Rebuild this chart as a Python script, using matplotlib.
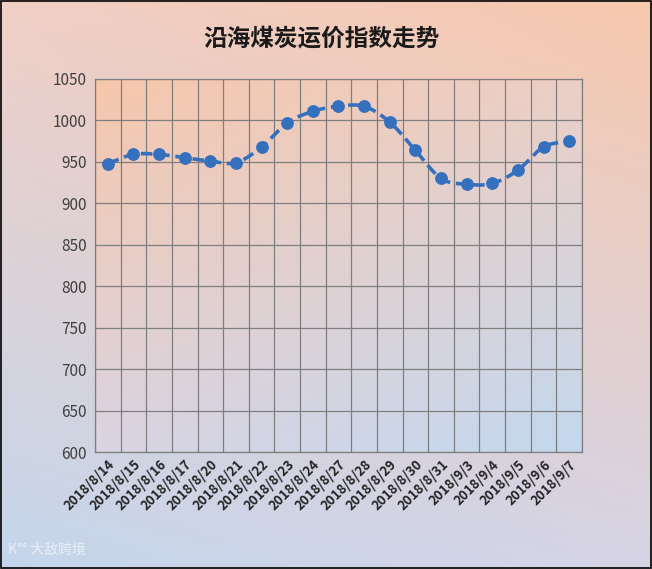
import numpy as np
import matplotlib
matplotlib.use("Agg")
import matplotlib.pyplot as plt
from matplotlib.colors import to_rgb

plt.rcParams['font.family'] = ['Noto Sans CJK SC', 'DejaVu Sans']

dates = ["2018/8/14", "2018/8/15", "2018/8/16", "2018/8/17", "2018/8/20", "2018/8/21",
         "2018/8/22", "2018/8/23", "2018/8/24", "2018/8/27", "2018/8/28", "2018/8/29",
         "2018/8/30", "2018/8/31", "2018/9/3", "2018/9/4", "2018/9/5", "2018/9/6", "2018/9/7"]
values = [948, 959, 959, 955, 951, 949, 968, 997, 1011, 1017, 1017, 998,
          964, 930, 923, 924, 940, 968, 975]
title = "沿海煤炭运价指数走势"
yticks = [600, 650, 700, 750, 800, 850, 900, 950, 1000, 1050]


def bilinear(tl, tr, bl, br, n=200):
    tl, tr, bl, br = [np.array(to_rgb(c)) for c in (tl, tr, bl, br)]
    u = np.linspace(0, 1, n)[None, :, None]
    v = np.linspace(0, 1, n)[:, None, None]
    top = tl * (1 - u) + tr * u
    bot = bl * (1 - u) + br * u
    return top * (1 - v) + bot * v


def catmull_rom(x, y, n=20):
    x = np.asarray(x, float); y = np.asarray(y, float)
    px = np.concatenate([[2 * x[0] - x[1]], x, [2 * x[-1] - x[-2]]])
    py = np.concatenate([[2 * y[0] - y[1]], y, [2 * y[-1] - y[-2]]])
    xs, ys = [], []
    t = np.linspace(0, 1, n, endpoint=False)
    for i in range(1, len(px) - 2):
        for p, out in ((px, xs), (py, ys)):
            p0, p1, p2, p3 = p[i - 1], p[i], p[i + 1], p[i + 2]
            out.extend(0.5 * ((2 * p1) + (-p0 + p2) * t + (2 * p0 - 5 * p1 + 4 * p2 - p3) * t ** 2
                              + (-p0 + 3 * p1 - 3 * p2 + p3) * t ** 3))
    xs.append(x[-1]); ys.append(y[-1])
    return np.array(xs), np.array(ys)


fig = plt.figure(figsize=(6.52, 5.69), dpi=100)

# figure background gradient
bg = fig.add_axes([0, 0, 1, 1], zorder=-10)
bg.imshow(bilinear("#f0cfc6", "#f7c8ad", "#c4d6ec", "#d6d4e6"), aspect='auto',
          extent=[0, 1, 0, 1], origin='upper')
bg.set_xlim(0, 1); bg.set_ylim(0, 1)
bg.axis('off')
bg.add_patch(plt.Rectangle((0.001, 0.001), 0.997, 0.997, fill=False, edgecolor='black',
                           linewidth=1.2, transform=bg.transAxes))
bg.text(0.012, 0.022, "K°° 大敌跨境", color='white', alpha=0.6, fontsize=10,
        transform=bg.transAxes, ha='left', va='bottom')

ax = fig.add_axes([0.1457, 0.2056, 0.7469, 0.6556])
n = len(dates)
ax.imshow(bilinear("#f7c7ab", "#eccfc6", "#dad4e2", "#c3d8ee"), aspect='auto',
          extent=[-0.5, n - 0.5, 600, 1050], origin='upper', zorder=0)
ax.set_xlim(-0.5, n - 0.5)
ax.set_ylim(600, 1050)

x = np.arange(n)
sx, sy = catmull_rom(x, values)
ax.plot(sx, sy, color='#3470bd', linewidth=2.6, linestyle=(0, (3.2, 1.6)), zorder=3,
        solid_capstyle='butt')
ax.plot(x, values, 'o', color='#3470bd', markersize=8.2, zorder=4)

ax.set_yticks(yticks)
ax.set_yticklabels([str(v) for v in yticks], fontsize=11, color='#404040')
ax.set_xticks(x)
ax.set_xticklabels(dates, rotation=45, ha='right', rotation_mode='anchor',
                   fontsize=9.5, fontweight='bold', color='#262626')
ax.set_xticks(np.arange(-0.5, n, 1), minor=True)
ax.tick_params(axis='x', which='major', length=0, pad=4)
ax.tick_params(axis='x', which='minor', length=0)
ax.tick_params(axis='y', length=0, pad=6)
ax.grid(True, axis='y', which='major', color='#7f7f7f', linewidth=0.9, zorder=1)
ax.grid(True, axis='x', which='minor', color='#7f7f7f', linewidth=0.9, zorder=1)
ax.grid(False, axis='x', which='major')
ax.set_axisbelow(True)
for s in ax.spines.values():
    s.set_color('#7f7f7f')
    s.set_linewidth(0.9)

fig.text(0.493, 0.933, title, ha='center', va='center', fontsize=17,
         fontweight='bold', color='#1a1a1a')

fig.savefig("out.png", dpi=100)
